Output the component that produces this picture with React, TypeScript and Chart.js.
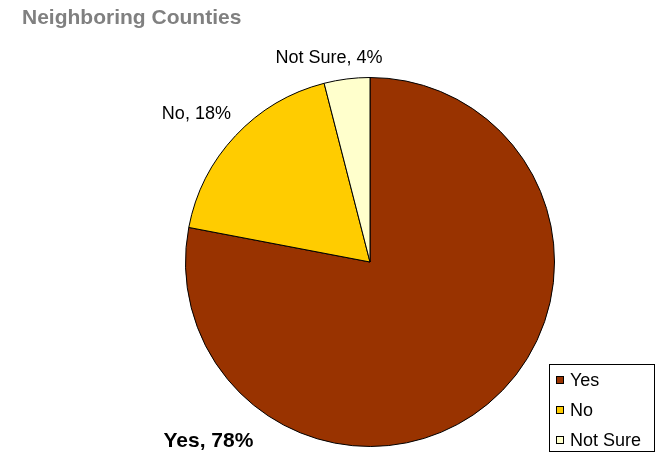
import React, { useEffect, useRef } from "react";
import { Chart, registerables } from "chart.js";

Chart.register(...registerables);

const TITLE = "Neighboring Counties";
const CATEGORIES = ["Yes", "No", "Not Sure"];
const VALUES = [78, 18, 4];
const COLORS = ["#993300", "#FFCC00", "#FFFFCC"];
// label anchor offsets from the pie centre, as fractions of the radius
const LABEL_DX = [-0.876, -0.941, -0.222];
const LABEL_DY = [1.0, -0.773, -1.077];
const LABEL_BOLD = [true, false, false];

const FONT = "Arial, 'Liberation Sans', sans-serif";

const decorPlugin = {
  id: "decor",
  afterDraw(chart: any) {
    const ctx = chart.ctx;
    const meta = chart.getDatasetMeta(0);
    const arc0 = meta.data[0];
    const cx = arc0.x;
    const cy = arc0.y;
    const r = arc0.outerRadius;
    ctx.save();
    // title
    ctx.fillStyle = "#808080";
    ctx.font = `bold 21px ${FONT}`;
    ctx.textAlign = "left";
    ctx.textBaseline = "alphabetic";
    ctx.fillText(TITLE, 22, 24);

    // data labels
    ctx.fillStyle = "#000";
    ctx.textAlign = "center";
    CATEGORIES.forEach((c, i) => {
      const x = cx + LABEL_DX[i] * r;
      const y = cy + LABEL_DY[i] * r;
      ctx.font = `${LABEL_BOLD[i] ? "bold 21px" : "18px"} ${FONT}`;
      ctx.fillText(`${c}, ${VALUES[i]}%`, x, y);
    });

    // legend box
    const lx = 549, ly = 364, lw = 105, lh = 87;
    ctx.fillStyle = "#fff";
    ctx.fillRect(lx, ly, lw, lh);
    ctx.strokeStyle = "#000";
    ctx.lineWidth = 1;
    ctx.strokeRect(lx + 0.5, ly + 0.5, lw, lh);
    ctx.font = `18px ${FONT}`;
    ctx.textAlign = "left";
    ctx.textBaseline = "middle";
    CATEGORIES.forEach((c, i) => {
      const y = ly + 16 + i * 30;
      ctx.fillStyle = COLORS[i];
      ctx.fillRect(lx + 7, y - 4, 8, 8);
      ctx.strokeRect(lx + 7.5, y - 3.5, 7, 7);
      ctx.fillStyle = "#000";
      ctx.fillText(c, lx + 21, y + 1);
    });
    ctx.restore();
  },
};

export default function App() {
  const ref = useRef<HTMLCanvasElement>(null);
  useEffect(() => {
    document.body.style.margin = "0";
    const chart = new Chart(ref.current!, {
      type: "pie",
      data: {
        labels: CATEGORIES,
        datasets: [
          {
            data: VALUES,
            backgroundColor: COLORS,
            borderColor: "#000",
            borderWidth: 1,
          },
        ],
      },
      options: {
        responsive: false,
        animation: false,
        layout: { padding: { top: 77, bottom: 5, left: 81, right: 0 } },
        plugins: {
          legend: { display: false },
          tooltip: { enabled: false },
          title: { display: false },
        },
      },
      plugins: [decorPlugin],
    });
    return () => chart.destroy();
  }, []);
  return (
    <div style={{ width: 659, height: 452, background: "#fff" }}>
      <canvas ref={ref} width={659} height={452} />
    </div>
  );
}
